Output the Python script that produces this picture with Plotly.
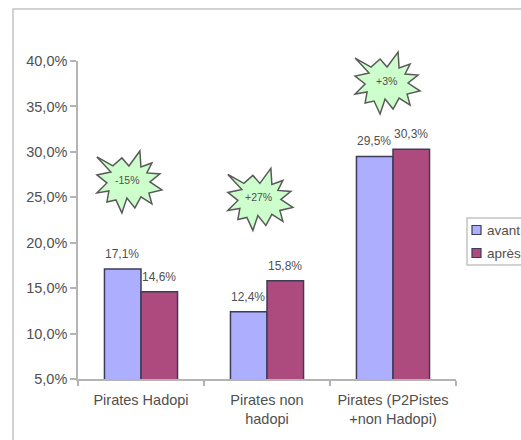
import plotly.graph_objects as go

categories = ["Pirates Hadopi", "Pirates non<br>hadopi", "Pirates (P2Pistes<br>+non Hadopi)"]
avant = [17.1, 12.4, 29.5]
apres = [14.6, 15.8, 30.3]
series_names = ["avant", "après"]
burst_labels = ["-15%", "+27%", "+3%"]
burst_paper_x = [0.132, 0.4785, 0.815]
burst_paper_y = [0.626, 0.571, 0.937]

W, H = 521, 440
L, R, T, B = 78, 65, 61, 61
BLUE, PLUM = "#AEAEFF", "#AD4B7F"
EDGE = "#3C3C5A"
TEXT = "#505050"
AXIS = "#B4B4B4"
FONT = "Liberation Sans"


def px(x):
    return (x - L) / (W - L - R)


def py(y):
    return (H - B - y) / (H - T - B)


def fr(v):
    return f"{v:.1f}".replace(".", ",") + "%"


# Twelve-pointed burst outline, in pixels around its centre.
BURST = [(-31, -23), (-15, -14), (-6, -22), (1, -14), (12, -29), (13, -13), (24, -17),
         (19, -7), (32, -6), (22, 2), (34, 10), (21, 13), (24, 24), (13, 17), (7, 28),
         (-1, 18), (-6, 33), (-12, 20), (-21, 22), (-19, 11), (-31, 13), (-21, 3), (-31, -5), (-17, -8)]
burst_path = "M" + " L".join(f"{x},{-y}" for x, y in BURST) + " Z"

fig = go.Figure()
fig.add_bar(name=series_names[0], x=categories, y=avant, marker=dict(color=BLUE, line=dict(color=EDGE, width=1.5)))
fig.add_bar(name=series_names[1], x=categories, y=apres, marker=dict(color=PLUM, line=dict(color=EDGE, width=1.5)))

shapes = [dict(type="rect", xref="paper", yref="paper", x0=px(13), x1=px(700), y0=py(700), y1=py(9),
               line=dict(color="#C4C4C4", width=1.5), layer="below")]
annotations = []

# Value labels above each bar
for i, cat in enumerate(categories):
    for vals, shift in ((avant, -19), (apres, 18)):
        annotations.append(dict(x=cat, y=vals[i], text=fr(vals[i]), showarrow=False, xshift=shift, yshift=15,
                                font=dict(size=12, color=TEXT, family=FONT)))

# Bursts showing the change between the two periods
for label, bx, by in zip(burst_labels, burst_paper_x, burst_paper_y):
    shapes.append(dict(type="path", xref="paper", yref="paper", xsizemode="pixel", ysizemode="pixel",
                       xanchor=bx, yanchor=by, path=burst_path, fillcolor="#CCFFCC",
                       line=dict(color="#5A5A5A", width=1.5)))
    annotations.append(dict(xref="paper", yref="paper", x=bx, y=by, text=label, showarrow=False,
                            xanchor="center", yanchor="middle",
                            font=dict(size=10.5, color=TEXT, family=FONT)))

# Key on the right, running off the edge of the page
shapes.append(dict(type="rect", xref="paper", yref="paper", x0=px(467), x1=px(700), y0=py(265), y1=py(218),
                   line=dict(color="#C4C4C4", width=1.5), fillcolor="white"))
for name, colour, cy in zip(series_names, (BLUE, PLUM), (230, 253)):
    shapes.append(dict(type="rect", xref="paper", yref="paper", x0=px(472), x1=px(481), y0=py(cy + 4.5), y1=py(cy - 4.5),
                       fillcolor=colour, line=dict(color=EDGE, width=1.2)))
    annotations.append(dict(xref="paper", yref="paper", x=px(485), y=py(cy), xanchor="left", yanchor="middle",
                            text=name, showarrow=False, font=dict(size=13.5, color=TEXT, family=FONT)))

fig.update_layout(
    width=W, height=H, barmode="group", bargap=0.42, bargroupgap=0, showlegend=False,
    margin=dict(l=L, r=R, t=T, b=B, autoexpand=False),
    paper_bgcolor="white", plot_bgcolor="white", separators=",.",
    font=dict(family=FONT, color=TEXT, size=14), shapes=shapes, annotations=annotations,
)
fig.update_xaxes(type="category", tickson="boundaries", ticks="outside", ticklen=5, tickcolor=AXIS, tickwidth=1.5,
                 showline=True, linecolor=AXIS, linewidth=1.5, showgrid=False, tickangle=0,
                 ticklabelstandoff=7, tickfont=dict(size=14.5, color=TEXT))
fig.update_yaxes(range=[5, 40], dtick=5, tick0=5, tickformat=".1f", ticksuffix="%", ticks="outside", ticklen=6,
                 tickcolor=AXIS, tickwidth=1.5, showline=True, linecolor=AXIS, linewidth=1.5, showgrid=False,
                 zeroline=False, tickfont=dict(size=14.5, color=TEXT))

fig.write_html("out.html", config=dict(displayModeBar=False))
